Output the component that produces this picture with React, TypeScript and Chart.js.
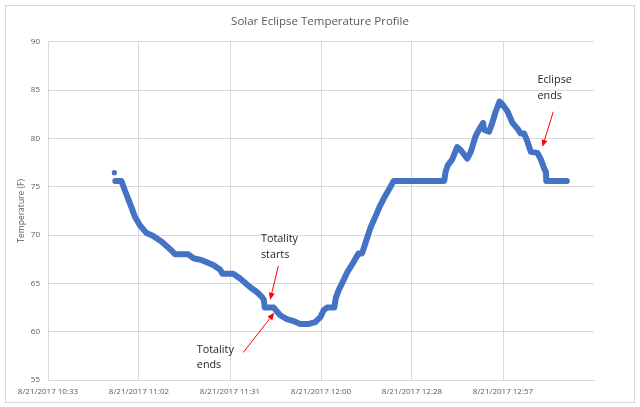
import { useEffect, useRef } from "react";
import { Chart, registerables, type Plugin } from "chart.js";

Chart.register(...registerables);

// time = minutes after midnight on 8/21/2017, temperature in °F
const minutes = [
  654.9, 656.8, 658.3, 659.5, 661.1, 662.7, 664.8, 666.9, 669.6, 672.7,
  673.8, 678.0, 679.6, 682.3, 685.9, 688.1, 688.8, 692.2, 694.4, 697.6,
  699.7, 701.3, 701.9, 702.2, 705.0, 707.1, 709.2, 711.3, 713.4, 716.1,
  718.2, 719.8, 720.8, 721.9, 724.2, 724.7, 725.6, 726.8, 728.4, 730.3,
  731.9, 733.0, 734.0, 735.6, 737.2, 738.8, 740.4, 742.0, 743.0, 759.0,
  759.4, 760.1, 761.5, 763.1, 764.2, 766.3, 767.4, 768.9, 770.0, 771.3,
  771.6, 773.2, 774.2, 775.3, 776.5, 777.2, 779.0, 780.6, 782.2, 783.2,
  784.3, 785.3, 786.4, 788.5, 789.6, 790.6, 791.2, 791.3, 797.8,
];
const tempF = [
  75.6, 75.6, 74.3, 73.3, 71.9, 71.0, 70.2, 69.9, 69.3, 68.4,
  68.0, 68.0, 67.6, 67.4, 66.9, 66.4, 66.0, 66.0, 65.5, 64.6,
  64.1, 63.6, 63.3, 62.5, 62.5, 61.7, 61.3, 61.1, 60.8, 60.8,
  61.0, 61.5, 62.2, 62.5, 62.5, 63.5, 64.3, 65.1, 66.2, 67.2,
  68.1, 68.1, 69.1, 70.7, 71.9, 73.1, 74.1, 75.0, 75.6, 75.6,
  76.5, 77.2, 77.8, 79.1, 78.8, 77.9, 78.6, 80.2, 80.9, 81.6,
  80.9, 80.7, 81.6, 82.8, 83.8, 83.6, 82.8, 81.6, 81.0, 80.5,
  80.5, 79.7, 78.6, 78.5, 77.8, 76.9, 76.5, 75.6, 75.6,
];
// first reading, sits apart from the rest
const strayMinutes = [654.6];
const strayTemp = [76.45];

const xTickValues = [633.6, 662.4, 691.2, 720, 748.8, 777.6];
const xTickLabels = [
  "8/21/2017 10:33",
  "8/21/2017 11:02",
  "8/21/2017 11:31",
  "8/21/2017 12:00",
  "8/21/2017 12:28",
  "8/21/2017 12:57",
];

// callouts: text anchor, arrow start, arrow tip (data units)
const notes = [
  { lines: ["Totality", "starts"], at: [701.0, 69.55], from: [706.5, 66.8], to: [703.9, 63.3] },
  { lines: ["Totality", "ends"], at: [680.7, 58.16], from: [695.4, 57.85], to: [705.2, 61.95] },
  { lines: ["Eclipse", "ends"], at: [788.5, 86.04], from: [793.5, 82.75], to: [790.1, 79.13] },
];

const FONT = '"Open Sans", sans-serif';
const GREY = "#595959";
const GRID = "#d9d9d9";
const BLUE = "#4472C4";

const callouts: Plugin<"scatter"> = {
  id: "callouts",
  afterDatasetsDraw(chart) {
    const { ctx } = chart;
    const sx = chart.scales.x;
    const sy = chart.scales.y;
    ctx.save();
    for (const n of notes) {
      const tx = sx.getPixelForValue(n.at[0]);
      const ty = sy.getPixelForValue(n.at[1]);
      ctx.font = `10.8px ${FONT}`;
      ctx.fillStyle = "#1f1f1f";
      ctx.textAlign = "left";
      ctx.textBaseline = "middle";
      n.lines.forEach((l, i) => ctx.fillText(l, tx, ty + i * 15.7));

      const x1 = sx.getPixelForValue(n.from[0]);
      const y1 = sy.getPixelForValue(n.from[1]);
      const x2 = sx.getPixelForValue(n.to[0]);
      const y2 = sy.getPixelForValue(n.to[1]);
      const a = Math.atan2(y2 - y1, x2 - x1);
      const len = 7;
      const hw = 3;
      const bx = x2 - len * Math.cos(a);
      const by = y2 - len * Math.sin(a);
      ctx.strokeStyle = "#ff0000";
      ctx.fillStyle = "#ff0000";
      ctx.lineWidth = 1;
      ctx.beginPath();
      ctx.moveTo(x1, y1);
      ctx.lineTo(bx, by);
      ctx.stroke();
      ctx.beginPath();
      ctx.moveTo(x2, y2);
      ctx.lineTo(bx + hw * Math.sin(a), by - hw * Math.cos(a));
      ctx.lineTo(bx - hw * Math.sin(a), by + hw * Math.cos(a));
      ctx.closePath();
      ctx.fill();
    }
    ctx.restore();
  },
};

function EclipseChart() {
  const canvasRef = useRef<HTMLCanvasElement>(null);

  useEffect(() => {
    const canvas = canvasRef.current;
    if (!canvas) return;
    const chart = new Chart(canvas, {
      type: "scatter",
      data: {
        datasets: [
          {
            data: minutes.map((m, i) => ({ x: m, y: tempF[i] })),
            showLine: true,
            borderColor: BLUE,
            backgroundColor: BLUE,
            borderWidth: 6,
            borderCapStyle: "round",
            borderJoinStyle: "round",
            pointRadius: 0,
          },
          {
            data: strayMinutes.map((m, i) => ({ x: m, y: strayTemp[i] })),
            showLine: false,
            backgroundColor: BLUE,
            borderColor: BLUE,
            pointRadius: 2.6,
            borderWidth: 0,
          },
        ],
      },
      options: {
        responsive: false,
        animation: false,
        layout: { padding: 0 },
        plugins: {
          legend: { display: false },
          tooltip: { enabled: false },
          title: {
            display: true,
            text: "Solar Eclipse Temperature Profile",
            color: GREY,
            font: { family: FONT, size: 11.5, weight: "normal" },
            padding: { top: 14.8, bottom: 13.1 },
          },
        },
        scales: {
          x: {
            type: "linear",
            min: 633.6,
            max: 806.4,
            afterBuildTicks: (scale) => {
              scale.ticks = xTickValues.map((v) => ({ value: v }));
            },
            afterFit: (scale) => {
              scale.height = 27;
            },
            ticks: {
              autoSkip: false,
              maxRotation: 0,
              padding: 7,
              color: GREY,
              font: { family: FONT, size: 8 },
              callback: (_v, i) => xTickLabels[i],
            },
            grid: { color: GRID, drawTicks: false },
            border: { color: GRID },
          },
          y: {
            min: 55,
            max: 90,
            afterFit: (scale) => {
              scale.width = 48;
            },
            ticks: {
              stepSize: 5,
              padding: 8,
              color: GREY,
              font: { family: FONT, size: 8 },
            },
            grid: { color: GRID, drawTicks: false },
            border: { display: false },
            title: {
              display: true,
              text: "Temperature (F)",
              color: GREY,
              font: { family: FONT, size: 8.5 },
              padding: { top: 16.6, bottom: 0 },
            },
          },
          // empty strip on the right so the plot ends where Excel's did
          spacer: {
            type: "linear",
            position: "right",
            min: 0,
            max: 1,
            afterFit: (scale) => {
              scale.width = 46;
            },
            ticks: { display: false },
            grid: { display: false, drawTicks: false },
            border: { display: false },
          },
        },
      },
      plugins: [callouts],
    });
    return () => chart.destroy();
  }, []);

  return (
    <canvas
      ref={canvasRef}
      width={640}
      height={407}
      style={{ position: "absolute", left: 0, top: 0, width: 640, height: 407 }}
    />
  );
}

export default function App() {
  return (
    <div
      style={{
        position: "fixed",
        left: 0,
        top: 0,
        width: 640,
        height: 407,
        background: "#fff",
        overflow: "hidden",
      }}
    >
      <div
        style={{
          position: "absolute",
          left: 5,
          top: 5,
          width: 628,
          height: 396,
          border: "1px solid #d9d9d9",
        }}
      />
      <EclipseChart />
    </div>
  );
}
